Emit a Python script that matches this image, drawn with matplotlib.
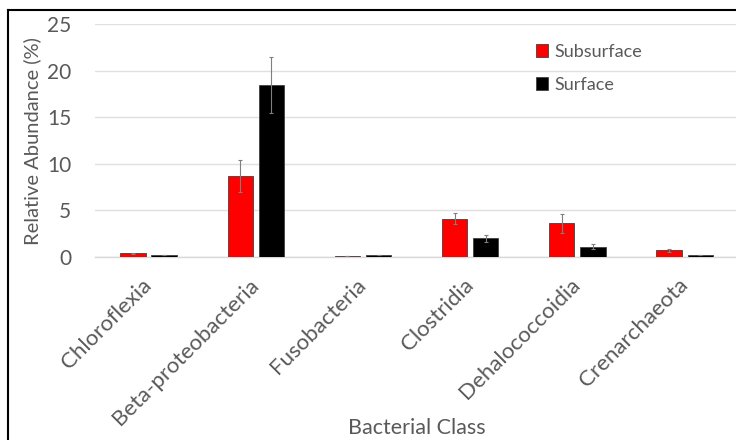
import matplotlib.pyplot as plt
import matplotlib.lines as mlines
import numpy as np

# datos
clases = ['Chloroflexia', 'Beta-proteobacteria', 'Fusobacteria',
          'Clostridia', 'Dehalococcoidia', 'Crenarchaeota']
subsurface = [0.4, 8.7, 0.1, 4.1, 3.6, 0.7]
subsurface_err = [0.05, 1.7, 0.02, 0.6, 1.0, 0.15]
surface = [0.2, 18.5, 0.2, 2.0, 1.1, 0.2]
surface_err = [0.03, 3.0, 0.03, 0.4, 0.25, 0.03]

gris = '#595959'
plt.rcParams['font.family'] = ['Lato', 'DejaVu Sans']

fig = plt.figure(figsize=(7.36, 4.4), dpi=100)
ax = fig.add_axes([0.129, 0.416, 0.874, 0.529])

x = np.arange(len(clases))
w = 0.235
ax.bar(x - 0.145, subsurface, w, color='#FF0000', edgecolor='#404040', linewidth=0.6,
       yerr=subsurface_err, error_kw=dict(ecolor='#7f7f7f', elinewidth=0.8, capsize=1.5, capthick=0.8),
       label='Subsurface', zorder=3)
ax.bar(x + 0.145, surface, w, color='#000000', edgecolor='#404040', linewidth=0.6,
       yerr=surface_err, error_kw=dict(ecolor='#7f7f7f', elinewidth=0.8, capsize=1.5, capthick=0.8),
       label='Surface', zorder=3)

ax.set_xlim(-0.5, len(clases) - 0.5)
ax.set_ylim(0, 25)
ax.set_yticks([0, 5, 10, 15, 20, 25])
ax.yaxis.grid(True, color='#e0e0e0', linewidth=1, zorder=0)
ax.set_axisbelow(True)

for s in ['top', 'right', 'left']:
    ax.spines[s].set_visible(False)
ax.spines['bottom'].set_color('#d9d9d9')
ax.spines['bottom'].set_linewidth(1)

ax.tick_params(axis='both', length=0, colors=gris)
ax.tick_params(axis='y', pad=17, labelsize=15)
ax.set_xticks(x)
ax.set_xticklabels(clases, rotation=45, ha='right', va='center',
                   rotation_mode='anchor', fontsize=16)
ax.tick_params(axis='x', pad=18)

ax.set_ylabel('Relative Abundance (%)', color=gris, fontsize=14.5, labelpad=4)
ax.set_xlabel('Bacterial Class', color=gris, fontsize=15.5, va='center')
ax.xaxis.set_label_coords(0.5, -0.735)

leg = ax.legend(loc='upper left', bbox_to_anchor=(0.66, 0.985), frameon=False,
                fontsize=13, handlelength=0.7, handleheight=0.7, handletextpad=0.35,
                labelspacing=0.95)
for t in leg.get_texts():
    t.set_color(gris)

# marco de la figura (solo arriba e izquierda visibles)
fig.add_artist(mlines.Line2D([0.011, 0.011], [0, 0.977], color='black', linewidth=1.5))
fig.add_artist(mlines.Line2D([0.011, 1.0], [0.977, 0.977], color='black', linewidth=1.5))

fig.savefig('out.png', dpi=100, facecolor='white')
